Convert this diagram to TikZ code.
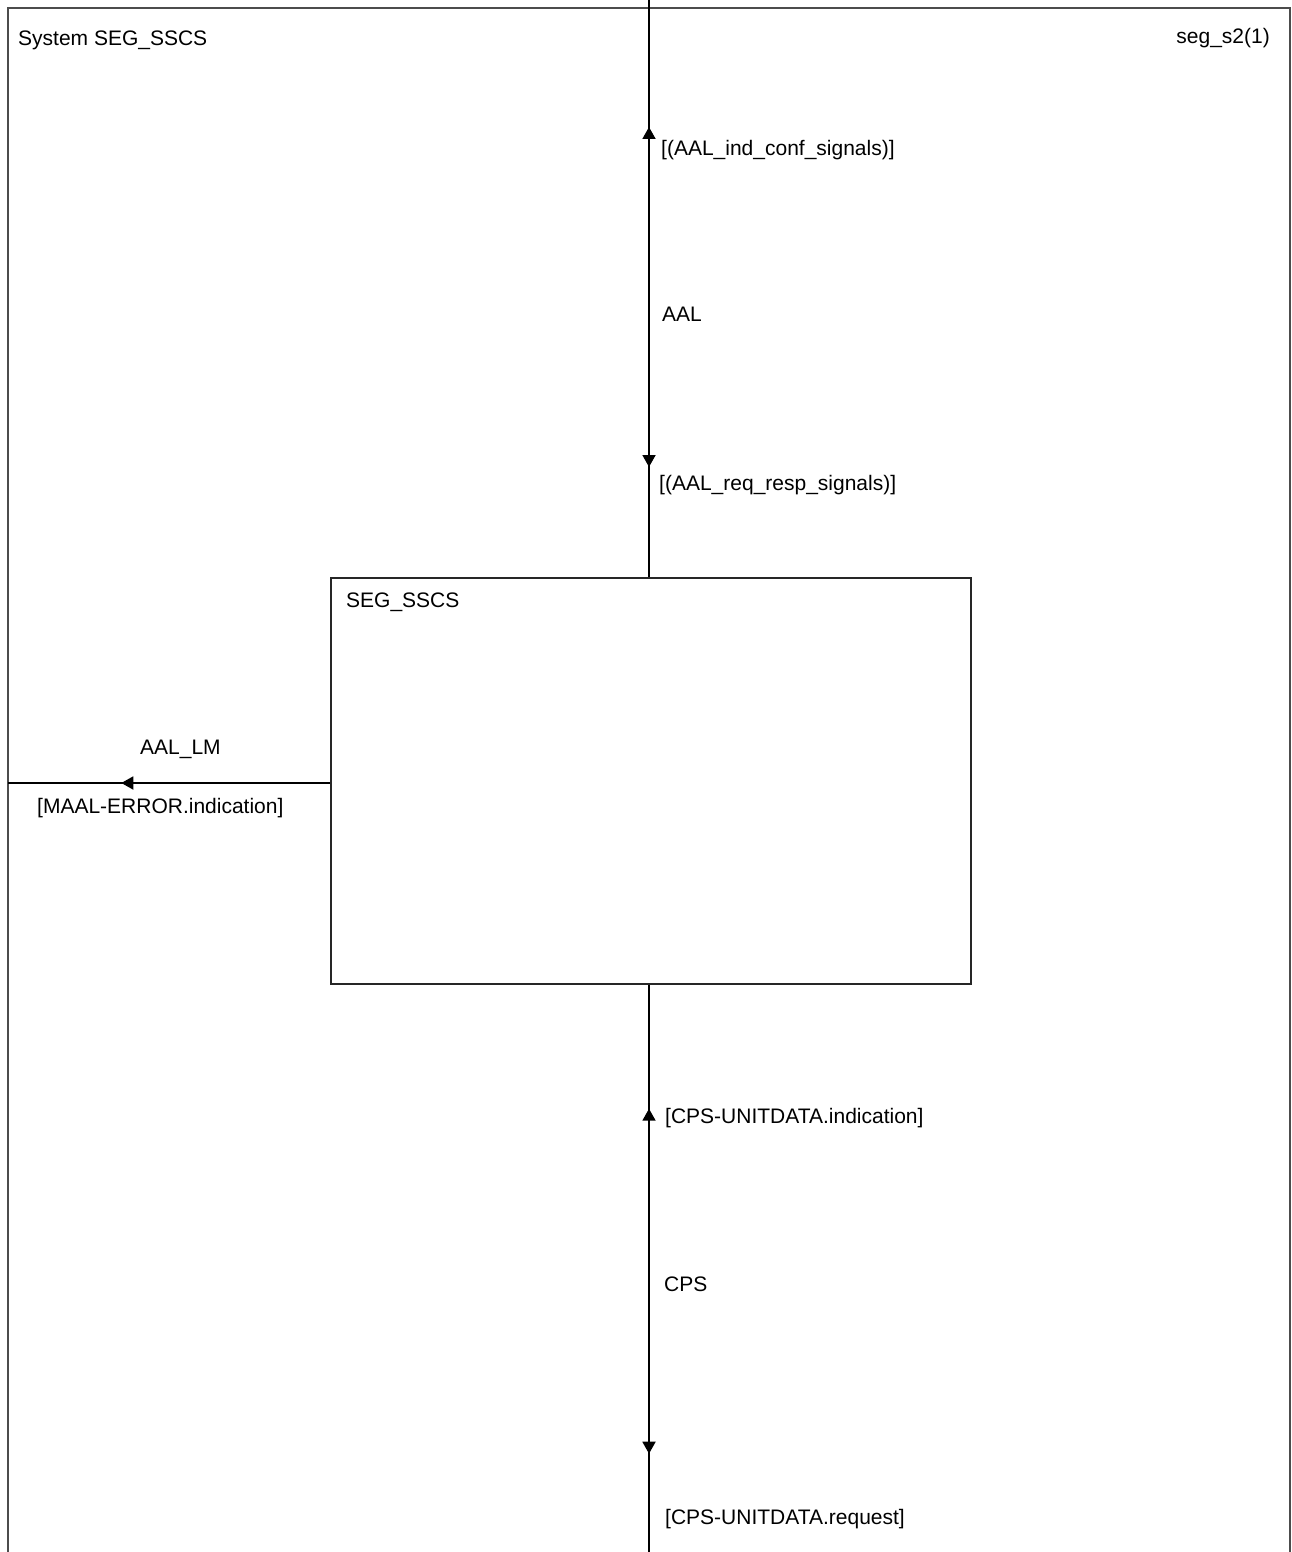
\documentclass[tikz,border=0pt]{standalone}
\usepackage{fontspec}
\setmainfont{Liberation Sans}
\usetikzlibrary{arrows.meta,decorations.markings}
\tikzset{
  lbl/.style={anchor=base west,inner sep=0pt,font=\fontsize{21}{25}\selectfont},
  chan/.style={line width=1.8pt,black},
  frameline/.style={line width=2pt,black!70},
  blockbox/.style={draw=black!85,line width=1.4pt,rectangle,inner sep=0pt},
}
\begin{document}
\begin{tikzpicture}[x=1pt,y=-1pt]
\useasboundingbox (0,0) rectangle (1291,1552);
% outer frame (open at the bottom)
\draw[frameline] (8,1553) -- (8,8) -- (1289.5,8) -- (1289.5,1553);
\node[lbl] (systitle) at (18,46) {System SEG\_SSCS};
\node[lbl,anchor=base east] (pagename) at (1270,44) {seg\_s2(1)};
% block
\node[blockbox,minimum width=640pt,minimum height=406pt] (ssc) at (651,781) {};
\node[lbl] (ssctitle) at (346,607) {SEG\_SSCS};
% channel AAL
\coordinate (aaltop) at (649,0);
\draw[chan,decoration={markings,
   mark=at position 139pt with {\arrow{Triangle[width=13pt,length=12pt,reversed]}},
   mark=at position 467pt with {\arrow{Triangle[width=13pt,length=12pt]}}},postaction={decorate}]
  (aaltop) -- (aaltop |- ssc.north);
\node[lbl] (aalup) at (661,155) {[(AAL\_ind\_conf\_signals)]};
\node[lbl] (aalname) at (662,321) {AAL};
\node[lbl] (aaldown) at (659,490) {[(AAL\_req\_resp\_signals)]};
% channel AAL_LM
\coordinate (lmend) at (8,783);
\draw[chan,decoration={markings,
   mark=at position 209pt with {\arrow{Triangle[width=13pt,length=12pt]}}},postaction={decorate}]
  (lmend -| ssc.west) -- (lmend);
\node[lbl] (lmname) at (140,754) {AAL\_LM};
\node[lbl] (lmsig) at (37,813) {[MAAL-ERROR.indication]};
% channel CPS
\coordinate (cpsbot) at (649,1553);
\draw[chan,decoration={markings,
   mark=at position 136pt with {\arrow{Triangle[width=13pt,length=12pt,reversed]}},
   mark=at position 469pt with {\arrow{Triangle[width=13pt,length=12pt]}}},postaction={decorate}]
  (cpsbot |- ssc.south) -- (cpsbot);
\node[lbl] (cpsup) at (665,1123) {[CPS-UNITDATA.indication]};
\node[lbl] (cpsname) at (664,1291) {CPS};
\node[lbl] (cpsdown) at (665,1524) {[CPS-UNITDATA.request]};
\end{tikzpicture}
\end{document}
